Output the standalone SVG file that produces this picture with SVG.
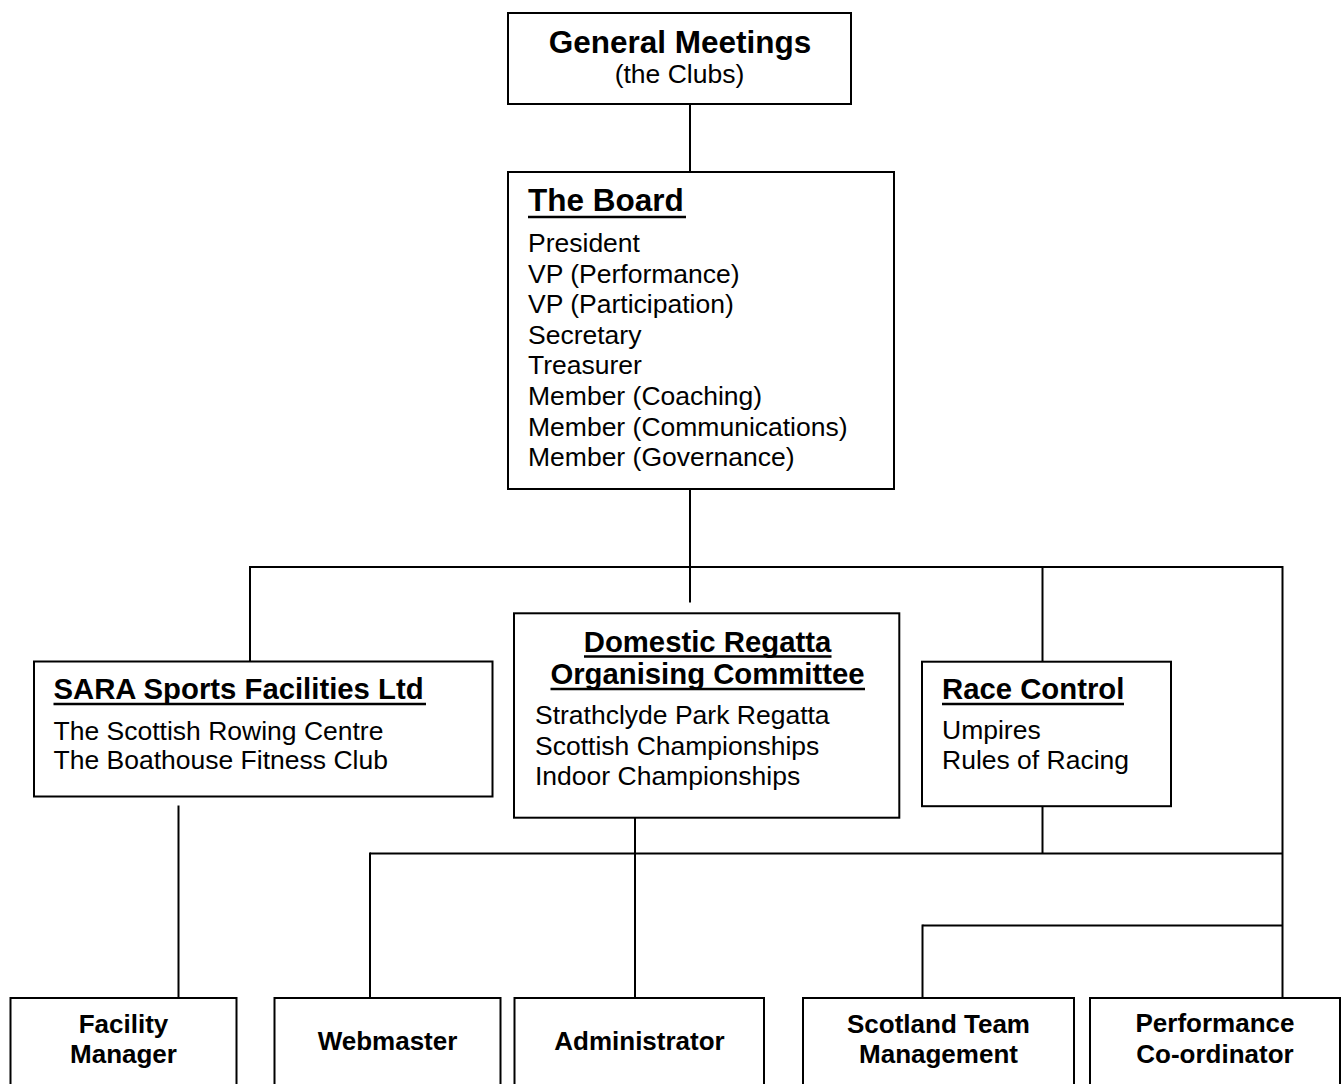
<svg xmlns="http://www.w3.org/2000/svg" width="1344" height="1084" viewBox="0 0 1344 1084">
<style>
  .box { fill: #ffffff; stroke: #000000; stroke-width: 2; }
  .conn line { stroke: #000000; stroke-width: 2; }
  .ul { stroke: #000000; stroke-width: 2.6; }
  text { font-family: "Liberation Sans", Arial, sans-serif; fill: #000000; }
  .h1 { font-size: 31.5px; font-weight: bold; }
  .h2 { font-size: 29.3px; font-weight: bold; }
  .body { font-size: 26.5px; }
  .lbl { font-size: 26px; font-weight: bold; text-anchor: middle; }
  .mid { text-anchor: middle; }
</style>
<rect x="0" y="0" width="1344" height="1084" fill="#ffffff"/>

<g id="connectors" class="conn">
  <line x1="690" y1="104" x2="690" y2="172"/>
  <line x1="690" y1="489" x2="690" y2="567"/>
  <line x1="249" y1="567" x2="1283" y2="567"/>
  <line x1="250" y1="566" x2="250" y2="661"/>
  <line x1="690" y1="567" x2="690" y2="602.5"/>
  <line x1="1042.5" y1="567" x2="1042.5" y2="661.5"/>
  <line x1="1282.5" y1="566" x2="1282.5" y2="998"/>
  <line x1="178.5" y1="805.5" x2="178.5" y2="998"/>
  <line x1="635" y1="817.5" x2="635" y2="998"/>
  <line x1="1042.5" y1="806" x2="1042.5" y2="854"/>
  <line x1="370" y1="853.5" x2="1283" y2="853.5"/>
  <line x1="370" y1="852.5" x2="370" y2="998"/>
  <line x1="922.5" y1="925.5" x2="1283" y2="925.5"/>
  <line x1="922.5" y1="924.5" x2="922.5" y2="998"/>
</g>

<g id="general-meetings">
  <rect class="box" x="508" y="13" width="343" height="91"/>
  <text class="h1 mid" x="680" y="53">General Meetings</text>
  <text class="body mid" x="679.5" y="83">(the Clubs)</text>
</g>

<g id="the-board">
  <rect class="box" x="508" y="172" width="386" height="317"/>
  <text class="h1" x="528" y="211">The Board</text>
  <line class="ul" x1="528" y1="217" x2="686" y2="217"/>
  <text class="body" x="528" y="252">President</text>
  <text class="body" x="528" y="282.6">VP (Performance)</text>
  <text class="body" x="528" y="313.2">VP (Participation)</text>
  <text class="body" x="528" y="343.8">Secretary</text>
  <text class="body" x="528" y="374.4">Treasurer</text>
  <text class="body" x="528" y="405">Member (Coaching)</text>
  <text class="body" x="528" y="435.6">Member (Communications)</text>
  <text class="body" x="528" y="466.2">Member (Governance)</text>
</g>

<g id="sara">
  <rect class="box" x="34" y="661.5" width="458.5" height="135"/>
  <text class="h2" x="53.5" y="698.5">SARA Sports Facilities Ltd</text>
  <line class="ul" x1="53.5" y1="704" x2="426" y2="704"/>
  <text class="body" x="53.5" y="739.5">The Scottish Rowing Centre</text>
  <text class="body" x="53.5" y="769">The Boathouse Fitness Club</text>
</g>

<g id="droc">
  <rect class="box" x="514" y="613.3" width="385.3" height="204.4"/>
  <text class="h2 mid" x="707.5" y="651.5">Domestic Regatta</text>
  <line class="ul" x1="584" y1="656.5" x2="831.5" y2="656.5"/>
  <text class="h2 mid" x="707.5" y="684">Organising Committee</text>
  <line class="ul" x1="550.5" y1="689" x2="865" y2="689"/>
  <text class="body" x="535" y="723.5">Strathclyde Park Regatta</text>
  <text class="body" x="535" y="754.5">Scottish Championships</text>
  <text class="body" x="535" y="785">Indoor Championships</text>
</g>

<g id="race-control">
  <rect class="box" x="922" y="661.7" width="249" height="144.5"/>
  <text class="h2" x="942" y="698.5">Race Control</text>
  <line class="ul" x1="942" y1="704" x2="1124" y2="704"/>
  <text class="body" x="942" y="738.5">Umpires</text>
  <text class="body" x="942" y="768.5">Rules of Racing</text>
</g>

<g id="facility-manager">
  <rect class="box" x="10.5" y="998" width="226" height="120"/>
  <text class="lbl" x="123.5" y="1033">Facility</text>
  <text class="lbl" x="123.5" y="1062.5">Manager</text>
</g>

<g id="webmaster">
  <rect class="box" x="274.5" y="998" width="226" height="120"/>
  <text class="lbl" x="387.5" y="1050">Webmaster</text>
</g>

<g id="administrator">
  <rect class="box" x="514.5" y="998" width="249.5" height="120"/>
  <text class="lbl" x="639.5" y="1050">Administrator</text>
</g>

<g id="scotland-team-management">
  <rect class="box" x="803" y="998" width="271" height="120"/>
  <text class="lbl" x="938.5" y="1033">Scotland Team</text>
  <text class="lbl" x="938.5" y="1062.5">Management</text>
</g>

<g id="performance-coordinator">
  <rect class="box" x="1090" y="998" width="250" height="120"/>
  <text class="lbl" x="1215" y="1032">Performance</text>
  <text class="lbl" x="1215" y="1062.5">Co-ordinator</text>
</g>
</svg>
